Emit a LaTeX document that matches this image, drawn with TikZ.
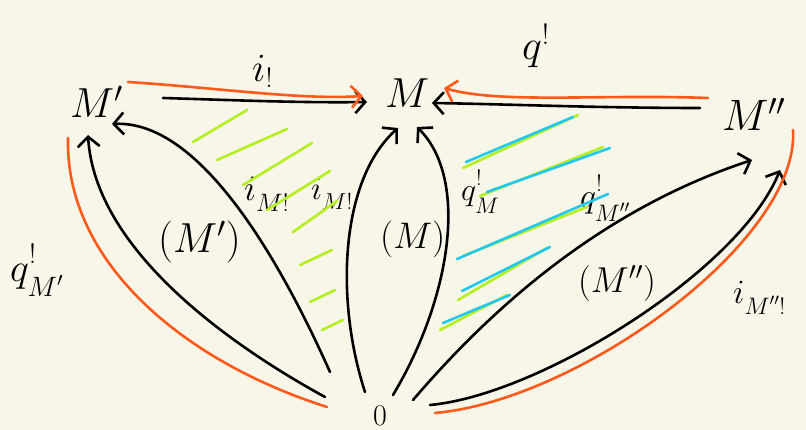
\RequirePackage{fix-cm}
\documentclass[tikz,border=0pt]{standalone}
\usetikzlibrary{arrows.meta}
\definecolor{bgcol}{HTML}{F8F5E9}
\definecolor{orcol}{HTML}{FF5A1A}
\definecolor{limecol}{HTML}{B4F020}
\definecolor{cyancol}{HTML}{22C8F0}
\tikzset{
  ink/.style={line width=2.6pt, line cap=round, line join=round},
  blk/.style={ink, draw=black},
  orline/.style={ink, draw=orcol},
  hatchg/.style={ink, draw=limecol},
  hatchc/.style={ink, draw=cyancol},
  barb/.style={-{Straight Barb[length=10pt,width=22pt]}},
  lab/.style={anchor=base west, inner sep=0pt, text=black},
}
\newcommand{\fs}[1]{\fontsize{#1}{#1}\selectfont}
\newcommand{\lsub}[1]{\lower5pt\hbox{$\scriptstyle #1$}}
\newcommand{\hsup}[1]{\raise4pt\hbox{$\scriptstyle #1$}}
\begin{document}
\begin{tikzpicture}[x=1pt,y=-1pt]
\fill[bgcol] (0,0) rectangle (806,430);
\useasboundingbox (0,0) rectangle (806,430);

% main nodes
\node[lab,font=\fs{42}] (Mp) at (70,118) {$M'$};
\node[lab,font=\fs{42}] (M) at (385,108) {$M$};
\node[lab,font=\fs{44}] (Mpp) at (722,131) {$M''$};
\node[lab,font=\fs{30}] (zero) at (373,425) {$0$};

% labels
\node[lab,font=\fs{40}] (li) at (252,82) {$i_!$};
\node[lab,font=\fs{42}] (lq) at (522,60) {$q^!$};
\node[lab,font=\fs{40}] (lqMp) at (10,282) {$q^{\hsup{!}}_{\lsub{M'}}$};
\node[lab,font=\fs{42}] (pMp) at (158,253) {$(M')$};
\node[lab,font=\fs{37}] (pM) at (380,249) {$(M)$};
\node[lab,font=\fs{36}] (pMpp) at (578,293) {$(M'')$};
\node[lab,font=\fs{36}] (liMp) at (244,201) {$i_{\lsub{M!}}$};
\node[lab,font=\fs{33}] (liM) at (311,200) {$i_{\lsub{M!}}$};
\node[lab,font=\fs{32}] (lqM) at (461,201) {$q^{\hsup{!}}_{\lsub{M}}$};
\node[lab,font=\fs{34}] (lqMpp) at (580,208) {$q^{\hsup{!}}_{\lsub{M''}}$};
\node[lab,font=\fs{34}] (liMpp) at (733,304) {$i_{\lsub{M''!}}$};

% connector end points
\coordinate (a1) at (163,98);  \coordinate (a2) at (367,102);
\coordinate (b1) at (700,108); \coordinate (b2) at (432,103);
\coordinate (oa1) at (128,82); \coordinate (oa2) at (363,96);
\coordinate (ob1) at (708,98); \coordinate (ob2) at (444,88);
\coordinate (p1s) at (325,397); \coordinate (p1e) at (88,135);
\coordinate (p2s) at (330,372); \coordinate (p2e) at (112,124);
\coordinate (p3s) at (365,392); \coordinate (p3e) at (398,128);
\coordinate (p4s) at (393,395); \coordinate (p4e) at (417,127);
\coordinate (p5s) at (413,400); \coordinate (p5e) at (752,160);
\coordinate (p6s) at (430,405); \coordinate (p6e) at (780,170);
\coordinate (ol1) at (68,138);  \coordinate (ol2) at (327,407);
\coordinate (or1) at (435,413); \coordinate (or2) at (793,130);

% top arrows
\draw[blk,barb] (a1) .. controls (230,100) and (300,103) .. (a2);
\draw[blk,barb] (b1) .. controls (600,108) and (500,104) .. (b2);
\draw[orline,barb] (oa1) .. controls (220,88) and (300,100) .. (oa2);
\draw[orline,barb] (ob1) .. controls (600,94) and (500,104) .. (ob2);

% petals
\draw[blk,barb] (p1s) .. controls (230,345) and (95,250) .. (p1e);
\draw[blk,barb] (p2s) .. controls (280,260) and (200,120) .. (p2e);
\draw[blk,barb] (p3s) .. controls (335,300) and (340,180) .. (p3e);
\draw[blk,barb] (p4s) .. controls (450,300) and (470,180) .. (p4e);
\draw[blk,barb] (p5s) .. controls (490,310) and (600,210) .. (p5e);
\draw[blk,barb] (p6s) .. controls (540,395) and (740,270) .. (p6e);

% orange outer curves
\draw[orline] (ol1) .. controls (65,260) and (180,360) .. (ol2);
\draw[orline] (or1) .. controls (580,400) and (800,240) .. (or2);

% left hatching (lime)
\draw[hatchg] (193,142) -- (247,110);
\draw[hatchg] (217,160) -- (287,129);
\draw[hatchg] (243,185) -- (312,143);
\draw[hatchg] (267,210) -- (330,171);
\draw[hatchg] (293,232) -- (337,201);
\draw[hatchg] (300,265) -- (332,250);
\draw[hatchg] (310,302) -- (335,290);
\draw[hatchg] (322,330) -- (343,320);

% right hatching (lime + cyan)
\draw[hatchg] (463,168) -- (578,115);
\draw[hatchc] (466,162) -- (573,117);
\draw[hatchg] (480,196) -- (603,147);
\draw[hatchc] (487,192) -- (610,148);
\draw[hatchg] (463,256) -- (587,207);
\draw[hatchc] (457,259) -- (608,194);
\draw[hatchg] (458,300) -- (547,248);
\draw[hatchc] (462,291) -- (550,247);
\draw[hatchg] (440,330) -- (507,295);
\draw[hatchc] (443,323) -- (510,295);
\end{tikzpicture}
\end{document}
